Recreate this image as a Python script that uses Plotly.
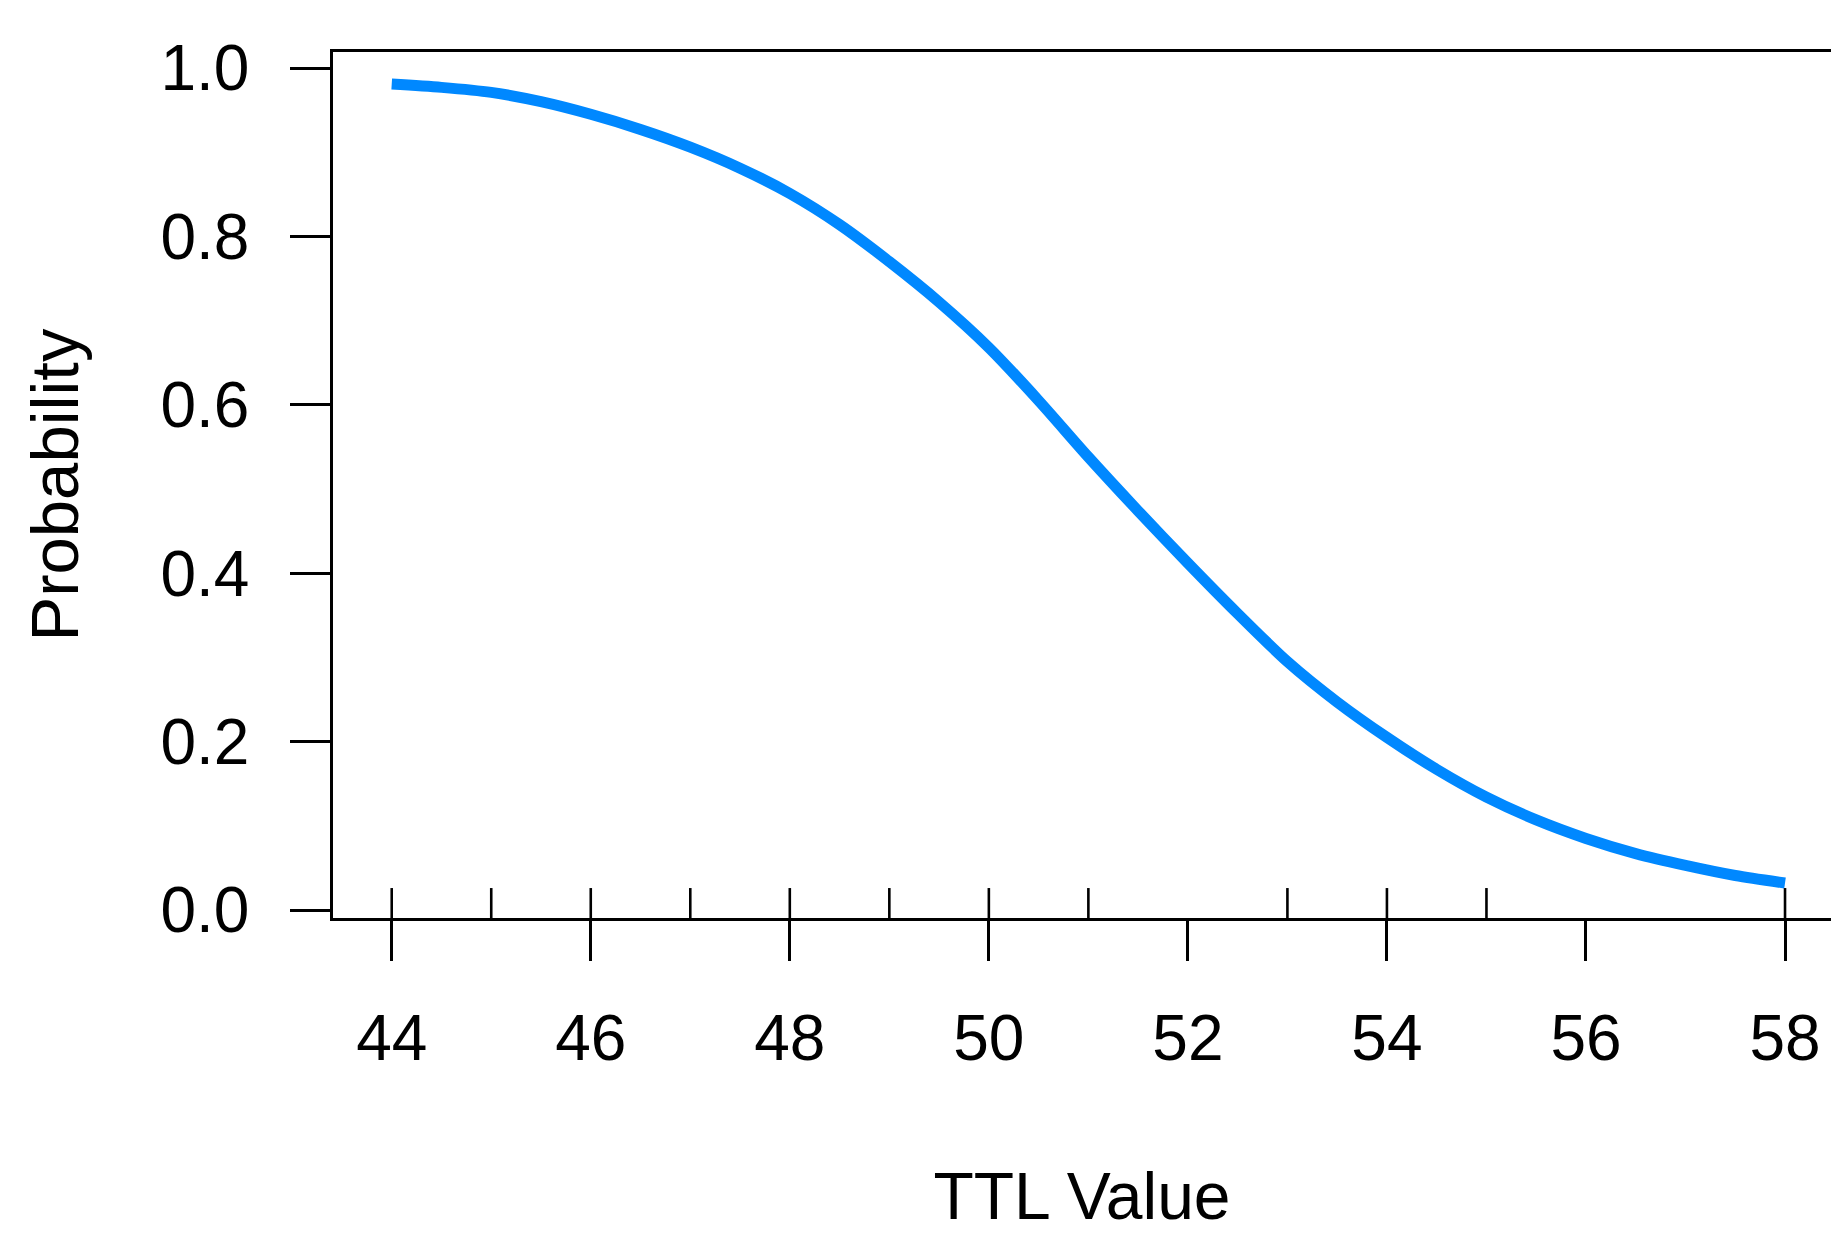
import plotly.graph_objects as go

# ---- data ----
ttl_values = [44, 44.5, 45, 45.5, 46, 46.5, 47, 47.5, 48, 48.5, 49, 49.5, 50, 50.5,
              51, 51.5, 52, 52.5, 53, 53.5, 54, 54.5, 55, 55.5, 56, 56.5, 57, 57.5, 58]
probability = [0.981, 0.977, 0.971, 0.960, 0.945, 0.927, 0.906, 0.881, 0.851, 0.814,
               0.770, 0.722, 0.668, 0.605, 0.538, 0.474, 0.412, 0.352, 0.295, 0.247,
               0.205, 0.167, 0.134, 0.107, 0.085, 0.067, 0.053, 0.041, 0.032]
rug_values = [44, 45, 46, 47, 48, 49, 50, 51, 53, 54, 55, 58]
x_ticks = [44, 46, 48, 50, 52, 54, 56, 58]
y_ticks = [0.0, 0.2, 0.4, 0.6, 0.8, 1.0]
y_tick_labels = ["0.0", "0.2", "0.4", "0.6", "0.8", "1.0"]

FONT = "Liberation Sans, Arial, sans-serif"
BLUE = "#0088ff"

fig = go.Figure()
fig.add_trace(go.Scatter(
    x=ttl_values, y=probability, mode="lines",
    line=dict(color=BLUE, width=11, shape="spline", smoothing=0.8),
    showlegend=False, hoverinfo="skip",
))

# rug ticks pointing up from the bottom frame line
for v in rug_values:
    fig.add_shape(type="line", xref="x", yref="paper", x0=v, x1=v, y0=0, y1=0.0346,
                  line=dict(color="black", width=2.6), layer="above")

fig.update_layout(
    width=1831, height=1233,
    margin=dict(l=333, r=0, t=52, b=315, pad=0),
    paper_bgcolor="white", plot_bgcolor="white",
    font=dict(family=FONT, size=64, color="black"),
    showlegend=False,
)
fig.update_xaxes(
    range=[43.410, 58.462], tickvals=x_ticks, ticktext=[str(t) for t in x_ticks],
    showgrid=False, zeroline=False,
    showline=True, linecolor="black", linewidth=2.6, mirror=True,
    ticks="outside", ticklen=40, tickwidth=2.6, tickcolor="black",
    ticklabelstandoff=22,
    tickfont=dict(family=FONT, size=64, color="black"),
    title=dict(text="TTL Value", font=dict(family=FONT, size=66, color="black"), standoff=110),
)
fig.update_yaxes(
    range=[-0.0095, 1.019], tickvals=y_ticks, ticktext=y_tick_labels,
    showgrid=False, zeroline=False,
    showline=True, linecolor="black", linewidth=2.6, mirror=False,
    ticks="outside", ticklen=40, tickwidth=2.6, tickcolor="black",
    ticklabelstandoff=28,
    tickfont=dict(family=FONT, size=64, color="black"),
    title=dict(text="Probability", font=dict(family=FONT, size=67, color="black"), standoff=60),
)

fig.write_html("out.html", config={"displayModeBar": False},
               post_script="document.body.style.margin='0';document.body.style.overflow='hidden';")
